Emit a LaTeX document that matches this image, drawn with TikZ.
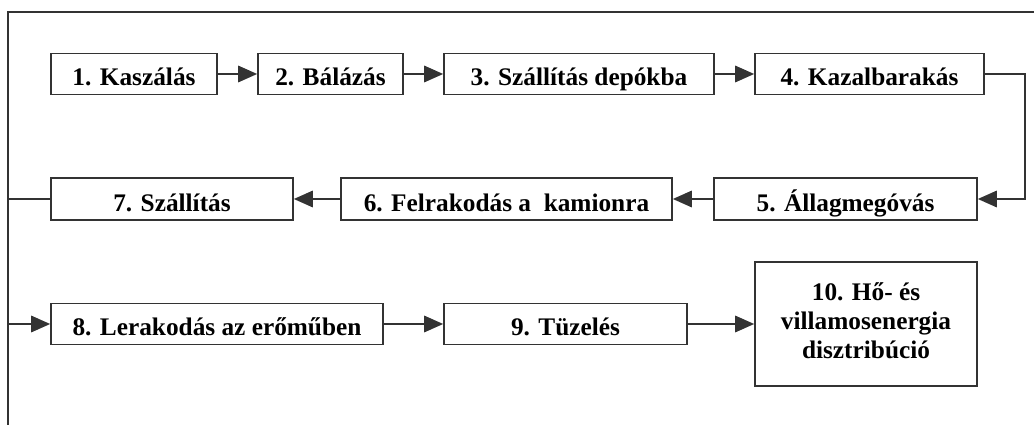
\documentclass[tikz,border=0pt]{standalone}
\usepackage{fontspec}
\setmainfont{Liberation Serif}
\usetikzlibrary{arrows.meta, positioning, calc}
\definecolor{cline}{HTML}{333333}
\tikzset{
  every picture/.style={font=\fontsize{14.4}{16.6}\selectfont\bfseries, line width=0.95pt},
  stepbox/.style={draw=cline, rectangle, inner sep=0pt, text height=0.64cm, text depth=0.18cm, minimum width=#1},
  stepbox/.default=3cm,
  arrow/.style={-{Triangle[length=0.38cm, width=0.33cm]}, draw=cline},
  plain/.style={draw=cline},
}
\begin{document}
\begin{tikzpicture}
\useasboundingbox (0,0) rectangle (20.68,-8.5);
% frame
\coordinate (tl) at (0.16,-0.24);
\coordinate (tr) at (20.68,-0.24);
\coordinate (bl) at (0.16,-8.5);
\draw[plain] (tr) -- (tl) -- (bl);
% row 1
\node[stepbox=3.32cm] (s1) at (2.68,-1.48) {1. Kaszálás};
\node[stepbox=2.90cm] (s2) at (6.61,-1.48) {2. Bálázás};
\node[stepbox=5.40cm] (s3) at (11.58,-1.48) {3. Szállítás depókba};
\node[stepbox=4.58cm] (s4) at (17.39,-1.48) {4. Kazalbarakás};
% row 2
\node[stepbox=5.26cm, text height=0.68cm, text depth=0.16cm] (s5) at (16.91,-3.98) {5. Állagmegóvás};
\node[stepbox=6.62cm, text height=0.68cm, text depth=0.16cm] (s6) at (10.13,-3.98) {6. Felrakodás a\ \ kamionra};
\node[stepbox=4.84cm, text height=0.68cm, text depth=0.16cm] (s7) at (3.44,-3.98) {7. Szállítás};
% row 3
\node[stepbox=6.64cm] (s8) at (4.34,-6.48) {8. Lerakodás az erőműben};
\node[stepbox=4.86cm] (s9) at (11.31,-6.48) {9. Tüzelés};
\node[stepbox=4.44cm, align=center, text height=1.94cm, text depth=0.54cm] (s10) at (17.32,-6.48) {10. Hő- és\\villamosenergia\\disztribúció};
% connectors
\foreach \a/\b in {s1/s2, s2/s3, s3/s4, s5/s6, s6/s7, s8/s9, s9/s10}
  \draw[arrow] (\a) -- (\b);
\draw[arrow] (s4.east) -- ++(0.8,0) |- (s5.east);
\draw[plain] (s7.west) -- (s7.west -| tl);
\draw[arrow] (s8.west -| tl) -- (s8.west);
\end{tikzpicture}
\end{document}
